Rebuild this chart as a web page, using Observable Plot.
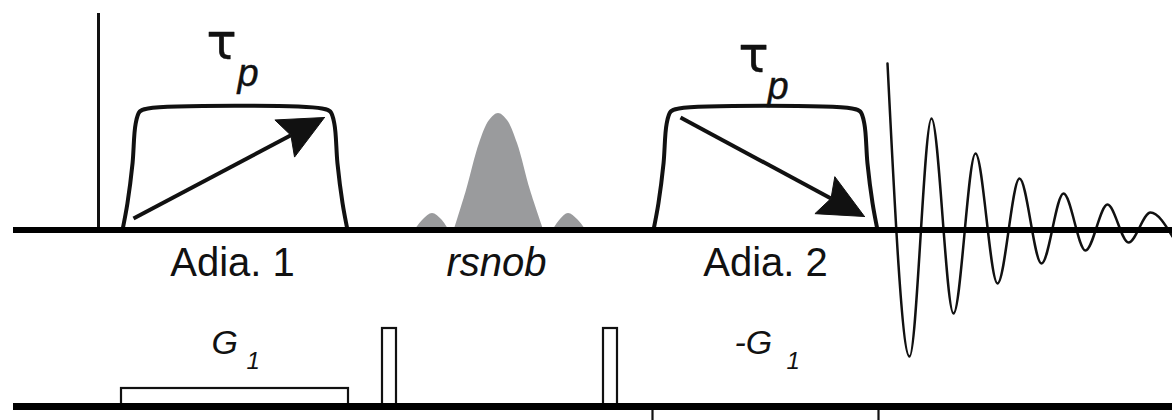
<!DOCTYPE html>
<html><head><meta charset="utf-8">
<script src="https://cdn.jsdelivr.net/npm/d3@7"></script>
<script src="https://cdn.jsdelivr.net/npm/@observablehq/plot@0.6"></script>
<style>body{margin:0;background:#fff} svg{display:block}</style>
</head><body><div id="chart"></div>
<script>
// ---- data (diagram units = pixels of the reference) ----
const rfBaseline = 229.5;
const gradBaseline = 406;
const channelStart = 13;
const channelEnd = 1172;

const hardPulseX = [98];
const hardPulseTop = [13];

const adiaNames = ["Adia. 1", "Adia. 2"];
const adiaStart = [122, 653];
const adiaEnd = [347, 877];
const adiaTop = [108, 108];
const adiaRise = [15, 15];

const arrowTailX = [133, 680];
const arrowTailY = [218, 117];
const arrowTipX = [324, 864];
const arrowTipY = [117, 216];

const rsnobLobe = ["L","L","L","L","L","M","M","M","M","M","M","M","M","M","R","R","R","R","R"];
const rsnobX = [415,423,432,441,448, 454,466,479,489,498,507,517,530,543, 553,560,568,577,585];
const rsnobY = [229,219,213,219,229, 229,190,143,120,113,120,143,190,229, 229,219,213,219,229];

const fidX = [887, 909, 931, 953, 975, 997, 1019, 1041, 1063, 1085, 1107, 1128, 1150, 1172];
const fidY = [63, 356, 118, 313, 153, 283, 178, 263, 193, 250, 204, 242, 212, 236];

const gradNames = ["G1", "spoil1", "spoil2"];
const gradX1 = [121, 382, 603];
const gradX2 = [348, 396, 617];
const gradTop = [388, 328, 328];

const negLobeX = [652, 878];

const plainLabels = ["Adia. 1", "Adia. 2"];
const plainLabelX = [232, 765];
const italicLabels = ["rsnob"];
const italicLabelX = [496];

const tauX = [221, 753];
const tauY = [58, 71];
const pX = [237, 767];
const pY = [85, 98];

const gLabel = ["G", "-G"];
const gLabelX = [211, 734];
const gSubX = [246, 786];

// ---- derived geometry ----
function pulsePts(i) {
  const x0 = adiaStart[i], x1 = adiaEnd[i], t = adiaTop[i], r = adiaRise[i], b = rfBaseline, h = b - t;
  const pts = [
    [x0, b], [x0 + 0.33*r, b - 0.22*h], [x0 + 0.67*r, b - 0.55*h], [x0 + 0.87*r, b - 0.87*h],
    [x0 + 1.15*r, t + 3], [x0 + 1.7*r, t],
    [x1 - 1.7*r, t], [x1 - 1.15*r, t + 3],
    [x1 - 0.87*r, b - 0.87*h], [x1 - 0.67*r, b - 0.55*h], [x1 - 0.33*r, b - 0.22*h], [x1, b]
  ];
  return pts.map(([x, y]) => ({x, y, k: i}));
}
const pulseData = adiaStart.flatMap((_, i) => pulsePts(i));

const headLen = 45, headHalf = 21, notch = 7;
const shafts = [], heads = [];
arrowTailX.forEach((_, i) => {
  const tx = arrowTailX[i], ty = arrowTailY[i], hx = arrowTipX[i], hy = arrowTipY[i];
  const L = Math.hypot(hx - tx, hy - ty), ux = (hx - tx)/L, uy = (hy - ty)/L, nx = -uy, ny = ux;
  shafts.push({x1: tx, y1: ty, x2: hx - (headLen - notch)*ux, y2: hy - (headLen - notch)*uy});
  const bx = hx - headLen*ux, by = hy - headLen*uy;
  [[hx, hy], [bx + headHalf*nx, by + headHalf*ny], [hx - (headLen - notch)*ux, hy - (headLen - notch)*uy],
   [bx - headHalf*nx, by - headHalf*ny], [hx, hy]].forEach(([x, y]) => heads.push({x, y, k: i}));
});

const rsnob = rsnobX.map((x, i) => ({x, y: rsnobY[i], k: rsnobLobe[i]}));
const fid = fidX.map((x, i) => ({x, y: fidY[i]}));
const grads = gradNames.map((n, i) => ({x1: gradX1[i], x2: gradX2[i], y1: gradTop[i], y2: gradBaseline}));

const font = "Liberation Sans, Arial, Helvetica, sans-serif";
const ink = "#111";

const chart = Plot.plot({
  width: 1172, height: 420,
  margin: 0,
  x: {domain: [0, 1172], axis: null},
  y: {domain: [0, 420], reverse: true, axis: null},
  style: {fontFamily: font, background: "#fff"},
  marks: [
    Plot.areaY(rsnob, {x: "x", y1: rfBaseline, y2: "y", z: "k", fill: "#9a9b9d", curve: "catmull-rom"}),
    Plot.ruleX(hardPulseX, {x: d => d, y1: rfBaseline, y2: (d, i) => hardPulseTop[i], stroke: ink, strokeWidth: 3}),
    Plot.line(pulseData, {x: "x", y: "y", z: "k", stroke: ink, strokeWidth: 4, curve: "catmull-rom"}),
    Plot.link(shafts, {x1: "x1", y1: "y1", x2: "x2", y2: "y2", stroke: ink, strokeWidth: 4}),
    Plot.line(heads, {x: "x", y: "y", z: "k", fill: ink, stroke: ink, strokeWidth: 1}),
    Plot.line(fid, {x: "x", y: "y", stroke: ink, strokeWidth: 2.5, curve: "monotone-x"}),
    Plot.rect(grads, {x1: "x1", x2: "x2", y1: "y1", y2: "y2", fill: "#fff", stroke: ink, strokeWidth: 2.2}),
    Plot.ruleX(negLobeX, {x: d => d, y1: gradBaseline, y2: 425, stroke: ink, strokeWidth: 2.2}),
    Plot.ruleY([rfBaseline], {x1: channelStart, x2: channelEnd, stroke: "#000", strokeWidth: 6}),
    Plot.ruleY([gradBaseline], {x1: channelStart, x2: channelEnd, stroke: "#000", strokeWidth: 7}),
    Plot.text(plainLabels, {x: (d, i) => plainLabelX[i], y: 275, text: d => d, fontSize: 40, lineAnchor: "bottom", fill: ink}),
    Plot.text(italicLabels, {x: (d, i) => italicLabelX[i], y: 275, text: d => d, fontSize: 40, fontStyle: "italic", lineAnchor: "bottom", fill: ink}),
    Plot.text(tauX, {x: d => d, y: (d, i) => tauY[i], text: () => "τ", fontSize: 50, fontFamily: "DejaVu Sans, sans-serif", lineAnchor: "bottom", fill: ink, stroke: ink, strokeWidth: 0.4}),
    Plot.text(pX, {x: d => d, y: (d, i) => pY[i], text: () => "p", fontSize: 38, fontStyle: "italic", textAnchor: "start", lineAnchor: "bottom", fill: ink, stroke: ink, strokeWidth: 0.4}),
    Plot.text(gLabel, {x: (d, i) => gLabelX[i], y: 353, text: d => d, fontSize: 34, fontStyle: "italic", textAnchor: "start", lineAnchor: "bottom", fill: ink}),
    Plot.text(gSubX, {x: d => d, y: 368, text: () => "1", fontSize: 24, fontStyle: "italic", textAnchor: "start", lineAnchor: "bottom", fill: ink})
  ]
});
document.getElementById("chart").appendChild(chart);
</script>
</body></html>
